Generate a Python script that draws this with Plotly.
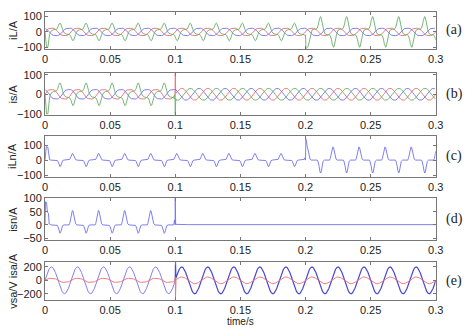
import plotly.graph_objects as go

# ---------------- data ----------------
CYCLE_S = 0.02          # 50 Hz fundamental
T_END = 0.3
T_COMP_ON = 0.1         # compensator switched on
T_LOAD_STEP = 0.2       # load step

X_TICKS = [0, 0.05, 0.1, 0.15, 0.2, 0.25, 0.3]
X_TICK_TEXT = ["0", "0.05", "0.1", "0.15", "0.2", "0.25", "0.3"]

# one-cycle shapes (phase in ms within a 20 ms cycle, value)
STEP_MS = [0, 1, 2, 3, 4, 5, 6, 7, 8, 9, 10, 11, 12, 13, 14, 15, 16, 17, 18, 19]
LOAD_SMALL = [0, 10, 18, 22, 24, 25, 24, 22, 18, 10, 0, -10, -18, -22, -24, -25, -24, -22, -18, -10]
PHASE_OFFSET_MS = {"a": 0.0, "b": 6.67, "c": 13.33}

GREEN_MS = [0, 0.5, 1.0, 1.5, 2.0, 2.5, 3.0, 3.5, 4.0, 5.0, 6.5, 8.0, 9.0, 9.5,
            10, 10.5, 11.0, 11.5, 12.0, 12.5, 13.0, 13.5, 14.0, 15.0, 16.5, 18.0, 19.0, 19.5]
GREEN_PRE = [-30, -44, -54, -58, -54, -45, -32, -18, -5, 8, 14, 15, 18, 24,
             30, 44, 54, 58, 54, 45, 32, 18, 5, -8, -14, -15, -18, -24]
GREEN_POST = [-52, -76, -94, -100, -94, -78, -55, -32, -10, 12, 18, 18, 24, 36,
              52, 76, 94, 100, 94, 78, 55, 32, 10, -12, -18, -18, -24, -36]

SRC_CYCLE = [0, 9, 18, 24, 29, 30, 29, 24, 18, 9, 0, -9, -18, -24, -29, -30, -29, -24, -18, -9]

ILN_MS = [0, 0.5, 1, 1.5, 2, 2.5, 3, 3.5, 4.5, 9.0, 9.5, 10, 10.5, 11, 11.5, 12, 12.5, 13, 13.5, 14.5,
          18.5, 19, 19.5]
ILN_PRE = [30, 40, 44, 42, 34, 22, 10, 3, 0, 0, -3, -10, -22, -36, -44, -40, -28, -12, -4, 0, 0, 5, 15]
ILN_POST = [60, 80, 88, 84, 68, 44, 20, 6, 0, 0, -6, -20, -44, -72, -86, -80, -56, -24, -8, 0, 0, 10, 30]
ISN_PRE = [38, 50, 55, 52, 42, 28, 12, 4, 0, 0, -2, -7, -16, -26, -32, -29, -20, -9, -3, 0, 0, 6, 19]
FLAT_MS = [0, 10]
ISN_POST = [1, 1]

VSA_CYCLE = [0, 62, 118, 162, 190, 200, 190, 162, 118, 62, 0, -62, -118, -162, -190, -200, -190, -162, -118, -62]
ISA_PRE = [0, 12, 22, 28, 30, 30, 30, 28, 22, 12, 0, -12, -22, -28, -30, -30, -30, -28, -22, -12]
ISA_POST = [0, 15, 29, 40, 48, 50, 48, 40, 29, 15, 0, -15, -29, -40, -48, -50, -48, -40, -29, -15]

# transients (time s, value)
GREEN_START = [(0.0, 0), (0.0012, -100), (0.0022, -100), (0.0032, -20)]
GREEN_STEP = [(0.2, -20), (0.2004, -112), (0.2015, -100)]
B_RED_ON = [(0.0998, 0), (0.1, 106), (0.1004, 4)]
B_GREEN_ON = [(0.0998, 0), (0.1, -104), (0.1004, -22)]
ILN_START = [(0.0, 0), (0.0004, 80), (0.001, 90), (0.0022, 85), (0.003, 5)]
ILN_STEP = [(0.2, 0), (0.2003, 142), (0.2008, 100), (0.2012, 88)]
ISN_START = [(0.0, 0), (0.0004, 88), (0.0012, 85), (0.0018, 48), (0.0026, 45), (0.0032, 3)]
ISN_ON = [(0.0999, 0), (0.1, 101), (0.1003, 2)]
VSA_ON = [(0.1, 0), (0.1002, 270), (0.1005, 30)]
ISA_ON = [(0.0998, 0), (0.1, 50), (0.1002, -255), (0.1006, 0)]

Y_RANGES = [(-108, 131), (-104, 110), (-113, 164), (-57, 101), (-295, 272)]
Y_TICKS = [[-100, 0, 100], [-100, 0, 100], [-100, 0, 100], [-50, 0, 50, 100], [-200, 0, 200]]
Y_TITLES = ["iL/A", "is/A", "iLn/A", "isn/A", "vsa/V isa/A"]
PANEL_TAGS = ["(a)", "(b)", "(c)", "(d)", "(e)"]

# ---------------- layout geometry (pixels) ----------------
W, H = 475, 328
X0, X1 = 43, 443
PANEL_PX = [(6, 44), (69, 112.5), (134, 177), (199, 242), (265, 304.3)]

RED = "#f26d6d"
GREEN = "#6aae6a"
BLUE = "#7272f2"
BLUE_DARK = "#4848dc"


def build(segments, transients=()):
    pts = []
    for t0, t1, ph, val, off in segments:
        for c in range(-2, 17):
            for p, v in zip(ph, val):
                t = round(c * CYCLE_S + (p + off) / 1000.0, 7)
                if (t0 <= t < t1) or (t1 >= T_END and t0 <= t <= T_END):
                    pts.append((t, v))
    for tr in transients:
        lo = min(p[0] for p in tr)
        hi = max(p[0] for p in tr)
        pts = [p for p in pts if not (lo <= p[0] <= hi)] + list(tr)
    pts.sort(key=lambda p: p[0])
    return [p[0] for p in pts], [p[1] for p in pts]


fig = go.Figure()


def add(panel, xy, color, width=0.9):
    x, y = xy
    sfx = "" if panel == 1 else str(panel)
    fig.add_trace(go.Scatter(x=x, y=y, mode="lines", line=dict(color=color, width=width),
                             xaxis="x" + sfx, yaxis="y" + sfx, hoverinfo="skip", showlegend=False))


oa, ob, oc = PHASE_OFFSET_MS["a"], PHASE_OFFSET_MS["b"], PHASE_OFFSET_MS["c"]

# (a) load currents
add(1, build([(0, T_END, STEP_MS, LOAD_SMALL, oa)]), RED)
add(1, build([(0, T_END, STEP_MS, LOAD_SMALL, oc)]), BLUE)
add(1, build([(0, T_LOAD_STEP, GREEN_MS, GREEN_PRE, 0), (T_LOAD_STEP, T_END, GREEN_MS, GREEN_POST, 0)],
             [GREEN_START, GREEN_STEP]), GREEN)

# (b) source currents
add(2, build([(0, T_COMP_ON, STEP_MS, LOAD_SMALL, oa), (T_COMP_ON, T_END, STEP_MS, SRC_CYCLE, oa)],
             [B_RED_ON]), RED)
add(2, build([(0, T_COMP_ON, STEP_MS, LOAD_SMALL, oc), (T_COMP_ON, T_END, STEP_MS, SRC_CYCLE, oc)]), BLUE)
add(2, build([(0, T_COMP_ON, GREEN_MS, GREEN_PRE, 0), (T_COMP_ON, T_END, STEP_MS, SRC_CYCLE, ob)],
             [GREEN_START, B_GREEN_ON]), GREEN)

# (c) load neutral current
add(3, build([(0, T_LOAD_STEP, ILN_MS, ILN_PRE, 0), (T_LOAD_STEP, T_END, ILN_MS, ILN_POST, 0)],
             [ILN_START, ILN_STEP]), BLUE)

# (d) source neutral current
add(4, build([(0, T_COMP_ON, ILN_MS, ISN_PRE, 0), (T_COMP_ON, T_END, FLAT_MS, ISN_POST, 0)],
             [ISN_START, ISN_ON]), BLUE)

# (e) phase-a voltage and current
add(5, build([(0, T_COMP_ON, STEP_MS, VSA_CYCLE, 0)], [[(0.0998, -12), (0.1, 0)]]), BLUE)
add(5, build([(T_COMP_ON, T_END, STEP_MS, VSA_CYCLE, 0)], [VSA_ON]), BLUE_DARK, 1.2)
add(5, build([(0, T_COMP_ON, STEP_MS, ISA_PRE, 0), (T_COMP_ON, T_END, STEP_MS, ISA_POST, 0)],
             [ISA_ON]), RED)

font = dict(family="Liberation Sans, Arial, sans-serif", size=11, color="#222")
axis_common = dict(showgrid=False, zeroline=False, showline=True, linecolor="#777", linewidth=1,
                   mirror="ticks", ticks="inside", ticklen=3, tickcolor="#777", tickfont=font)

layout = dict(width=W, height=H, margin=dict(l=0, r=0, t=0, b=0),
              paper_bgcolor="white", plot_bgcolor="white", showlegend=False, hovermode=False)
annotations = []
for i, (top, bot) in enumerate(PANEL_PX):
    sfx = "" if i == 0 else str(i + 1)
    ydom = [1 - bot / H, 1 - top / H]
    layout["xaxis" + sfx] = dict(axis_common, domain=[X0 / W, X1 / W], range=[0, T_END],
                                 tickvals=X_TICKS, ticktext=X_TICK_TEXT,
                                 anchor="y" + sfx)
    layout["yaxis" + sfx] = dict(axis_common, domain=ydom, range=list(Y_RANGES[i]),
                                 tickvals=Y_TICKS[i], anchor="x" + sfx)
    yc = 1 - (top + bot) / 2 / H
    annotations.append(dict(text=Y_TITLES[i], x=10 / W, y=yc, xref="paper", yref="paper",
                            textangle=-90, showarrow=False, font=font, xanchor="center", yanchor="middle"))
    annotations.append(dict(text=PANEL_TAGS[i], x=462 / W, y=yc, xref="paper", yref="paper",
                            showarrow=False, xanchor="center", yanchor="middle",
                            font=dict(family="Liberation Serif, Times New Roman, serif", size=14, color="#222")))
annotations.append(dict(text="time/s", x=(X0 + X1) / 2 / W, y=1 - 326 / H, xref="paper", yref="paper",
                        showarrow=False, xanchor="center", yanchor="middle",
                        font=dict(font, size=10)))
layout["annotations"] = annotations
fig.update_layout(**layout)
fig.write_html("out.html")
